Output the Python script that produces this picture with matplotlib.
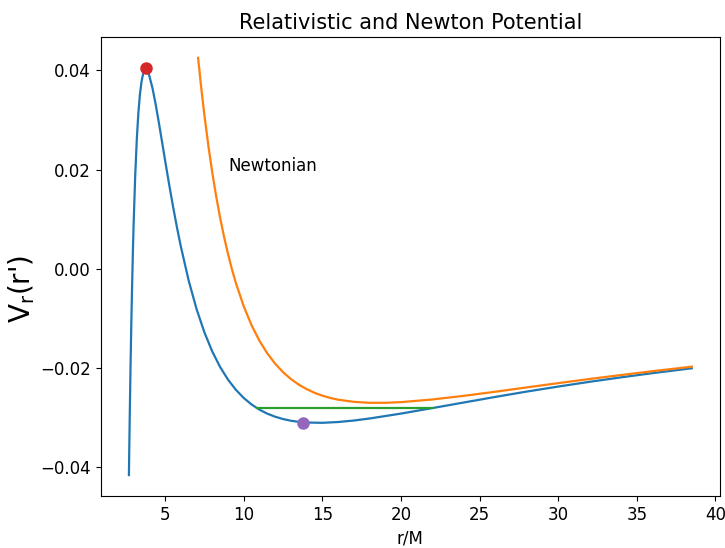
import matplotlib
matplotlib.use("Agg")
import matplotlib.pyplot as plt

# Relativistic potential
r_rel = [2.70, 2.72, 2.75, 2.80, 2.85, 2.90, 2.95, 3.0, 3.1, 3.2, 3.3, 3.4, 3.5, 3.6, 3.7, 3.8,
         3.9, 4.0, 4.2, 4.4, 4.6, 4.8, 5.0, 5.25, 5.5, 5.75, 6.0, 6.5, 7.0, 7.5, 8.0, 8.5, 9.0,
         9.5, 10, 10.5, 11, 11.5, 12, 12.5, 13, 13.5, 14, 15, 16, 17, 18, 20, 22, 24, 26, 28,
         30, 32, 34, 36, 38.5]
v_rel = [-0.04160, -0.03688, -0.03023, -0.02023, -0.01142, -0.00367, 0.00313, 0.00907,
         0.01878, 0.02606, 0.03140, 0.03519, 0.03773, 0.03927, 0.04001, 0.04011, 0.03971,
         0.03891, 0.03643, 0.03320, 0.02956, 0.02574, 0.02188, 0.01717, 0.01267, 0.00845,
         0.00454, -0.00236, -0.00809, -0.01281, -0.01666, -0.01980, -0.02234, -0.02439,
         -0.02604, -0.02736, -0.02840, -0.02921, -0.02983, -0.03030, -0.03064, -0.03086,
         -0.03100, -0.03106, -0.03090, -0.03060, -0.03019, -0.02920, -0.02809, -0.02696,
         -0.02584, -0.02476, -0.02375, -0.02279, -0.02189, -0.02104, -0.02006]

# Newtonian potential
r_newt = [7.1, 7.3, 7.5, 7.75, 8.0, 8.25, 8.5, 8.75, 9.0, 9.25, 9.5, 10, 10.5, 11, 11.5, 12,
          12.5, 13, 13.5, 14, 14.5, 15, 15.5, 16, 17, 18, 19, 20, 22, 24, 26, 28, 30, 32, 34,
          36, 38.5]
v_newt = [0.04255, 0.03650, 0.03102, 0.02489, 0.01945, 0.01462, 0.01031, 0.00647, 0.00303,
          -0.00006, -0.00283, -0.00755, -0.01138, -0.01450, -0.01705, -0.01913, -0.02083,
          -0.02222, -0.02335, -0.02426, -0.02500, -0.02558, -0.02604, -0.02639, -0.02683,
          -0.02702, -0.02702, -0.02689, -0.02635, -0.02562, -0.02479, -0.02392, -0.02306,
          -0.02222, -0.02142, -0.02065, -0.01974]

# Energy level between turning points
r_energy = [10.86, 22.0]
v_energy = [-0.0281, -0.0281]

max_pt = (3.77, 0.0406)
min_pt = (13.8, -0.0311)

fig = plt.figure(figsize=(7.25, 5.48), dpi=100)
ax = fig.add_axes([0.139, 0.095, 0.854, 0.8375])
ax.plot(r_rel, v_rel, color="#1f77b4", lw=1.6)
ax.plot(r_newt, v_newt, color="#ff7f0e", lw=1.6)
ax.plot(r_energy, v_energy, color="#2ca02c", lw=1.6)
ax.plot(*max_pt, "o", color="#d62728", ms=8)
ax.plot(*min_pt, "o", color="#9467bd", ms=8)
ax.text(9.0, 0.0197, "Newtonian", fontsize=12)
ax.set_title("Relativistic and Newton Potential", fontsize=15)
ax.set_xlabel("r/M", fontsize=12)
ax.set_ylabel("V$_\\mathrm{r}$(r')", fontsize=20)
ax.yaxis.set_label_coords(-0.103, 0.452)
ax.set_yticks([-0.04, -0.02, 0.0, 0.02, 0.04])
ax.set_yticklabels(["\u22120.04", "\u22120.02", "0.00", "0.02", "0.04"])
ax.tick_params(axis="both", labelsize=12)
fig.savefig("out.png", dpi=100)
